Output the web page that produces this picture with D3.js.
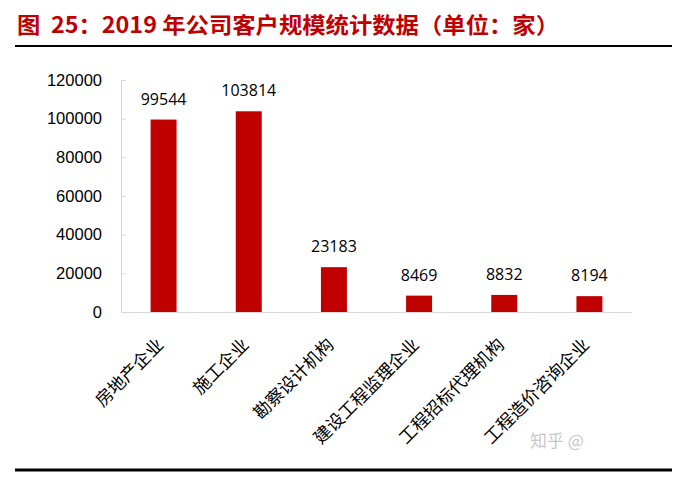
<!DOCTYPE html>
<html>
<head>
<meta charset="utf-8">
<script src="https://cdn.jsdelivr.net/npm/d3@7"></script>
<style>
  body { margin: 0; background: #fff; }
  svg { display: block; }
</style>
</head>
<body>
<svg></svg>
<script>
const categories = ['房地产企业', '施工企业', '勘察设计机构', '建设工程监理企业', '工程招标代理机构', '工程造价咨询企业'];
const values = [99544, 103814, 23183, 8469, 8832, 8194];
const yTicks = [0, 20000, 40000, 60000, 80000, 100000, 120000];

const W = 687, H = 477;
const plot = {l: 121, r: 632, t: 80, b: 312};

const svg = d3.select('svg')
    .attr('width', W)
    .attr('height', H);

// title + rules
svg.append('text')
    .attr('x', 17)
    .attr('y', 33)
    .attr('fill', '#c00000')
    .attr('font-family', '"Noto Sans CJK SC", sans-serif')
    .attr('font-weight', 'bold')
    .attr('font-size', 22)
    .attr('textLength', 542)
    .attr('lengthAdjust', 'spacingAndGlyphs')
    .style('white-space', 'pre')
    .text('图  25：2019 年公司客户规模统计数据（单位：家）');

svg.append('line')
    .attr('x1', 15).attr('x2', 672)
    .attr('y1', 46).attr('y2', 46)
    .attr('stroke', '#000').attr('stroke-width', 2);

svg.append('line')
    .attr('x1', 15).attr('x2', 672)
    .attr('y1', 470).attr('y2', 470)
    .attr('stroke', '#000').attr('stroke-width', 3);

const scaleX = d3.scaleBand()
    .domain(categories)
    .range([plot.l, plot.r])
    .paddingInner(0.695)
    .paddingOuter(0.3475);

const scaleY = d3.scaleLinear()
    .domain([0, 120000])
    .range([plot.b, plot.t]);

// y axis
const axisYG = svg.append('g')
    .attr('transform', `translate(${plot.l},0)`)
    .call(d3.axisLeft(scaleY).tickValues(yTicks).tickFormat(d3.format('d'))
        .tickSizeInner(-5).tickSizeOuter(0).tickPadding(19));
axisYG.select('.domain').attr('stroke', '#d9d9d9');
axisYG.selectAll('.tick line').attr('stroke', '#d9d9d9');
axisYG.selectAll('text')
    .attr('fill', '#000')
    .attr('font-family', '"Liberation Sans", Arial, sans-serif')
    .attr('font-size', 16.5)
    .attr('x', -19);

// x axis
const axisXG = svg.append('g')
    .attr('transform', `translate(0,${plot.b})`)
    .call(d3.axisBottom(scaleX).tickSize(0).tickPadding(0));
axisXG.select('.domain').attr('stroke', '#d9d9d9').attr('d', `M${plot.l},0.5H${plot.r}`);
axisXG.selectAll('text')
    .attr('fill', '#000')
    .attr('font-family', '"Noto Sans CJK SC", sans-serif')
    .attr('font-size', 17.5)
    .attr('text-anchor', 'end')
    .attr('dy', 0)
    .attr('transform', 'translate(1,34) rotate(-45)');

// bars
svg.append('g').selectAll('rect')
    .data(values)
    .join('rect')
    .attr('x', (d, i) => scaleX(categories[i]))
    .attr('y', d => scaleY(d))
    .attr('width', scaleX.bandwidth())
    .attr('height', d => scaleY(0) - scaleY(d))
    .attr('fill', '#c00000');

// value labels
svg.append('g').selectAll('text')
    .data(values)
    .join('text')
    .attr('x', (d, i) => scaleX(categories[i]) + scaleX.bandwidth() / 2)
    .attr('y', d => scaleY(d) - 15)
    .attr('text-anchor', 'middle')
    .attr('fill', '#000')
    .attr('font-family', '"Open Sans", sans-serif')
    .attr('font-size', 16)
    .text(d => d);

// watermark
svg.append('text')
    .attr('x', 530).attr('y', 447)
    .attr('fill', '#c8c8c8')
    .attr('font-family', '"Noto Sans CJK SC", sans-serif')
    .attr('font-size', 17)
    .text('知乎 @');
</script>
</body>
</html>
